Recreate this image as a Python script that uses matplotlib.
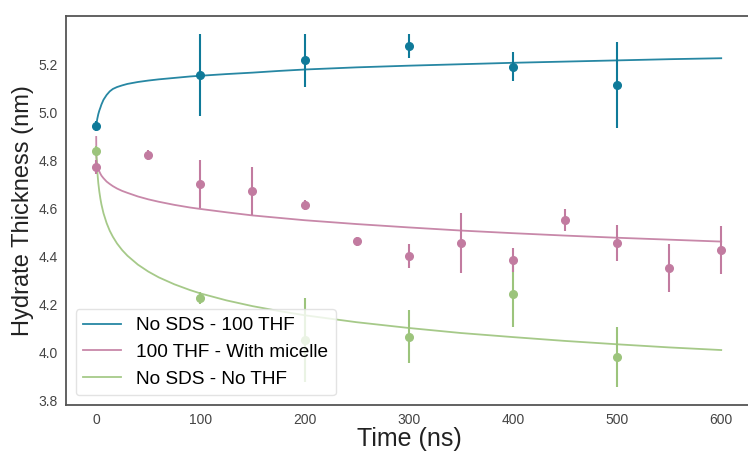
import matplotlib
matplotlib.use("Agg")
import matplotlib.pyplot as plt

plt.rcParams['font.family'] = ['Liberation Sans', 'DejaVu Sans']

# ---- data ----
labels = ["No SDS - 100 THF", "100 THF - With micelle", "No SDS - No THF"]
colors = ["#0f7a99", "#c27ba0", "#9cc47c"]

t_a = [0, 100, 200, 300, 400, 500]
y_a = [4.945, 5.157, 5.220, 5.280, 5.193, 5.117]
e_a = [0.02, 0.17, 0.11, 0.05, 0.06, 0.18]

t_b = [0, 50, 100, 150, 200, 250, 300, 350, 400, 450, 500, 550, 600]
y_b = [4.776, 4.825, 4.705, 4.674, 4.617, 4.465, 4.404, 4.457, 4.386, 4.554, 4.457, 4.355, 4.427]
e_b = [0.03, 0.02, 0.10, 0.10, 0.02, 0.02, 0.05, 0.125, 0.05, 0.045, 0.075, 0.10, 0.10]

t_c = [0, 100, 200, 300, 400, 500]
y_c = [4.843, 4.230, 4.054, 4.068, 4.245, 3.983]
e_c = [0.02, 0.025, 0.175, 0.11, 0.135, 0.125]

# fitted curves
t_fit = [0, 0.1, 0.2, 0.5, 1, 2, 3, 4, 5, 7, 10, 13, 16, 20, 25, 30, 40, 50, 60,
         75, 90, 100, 125, 150, 175, 200, 250, 300, 350, 400, 450, 500, 550, 600]
fit_a = [4.940, 4.945, 4.950, 4.960, 4.975, 4.995, 5.010, 5.022, 5.035, 5.055,
         5.075, 5.090, 5.100, 5.108, 5.115, 5.121, 5.129, 5.135, 5.140, 5.146,
         5.152, 5.155, 5.162, 5.168, 5.175, 5.181, 5.190, 5.197, 5.203, 5.209,
         5.214, 5.219, 5.224, 5.228]
fit_b = [4.900, 4.829, 4.818, 4.801, 4.785, 4.767, 4.756, 4.747, 4.739, 4.728,
         4.714, 4.704, 4.695, 4.685, 4.675, 4.667, 4.652, 4.640, 4.630, 4.617,
         4.606, 4.600, 4.586, 4.573, 4.563, 4.553, 4.537, 4.523, 4.510, 4.499,
         4.489, 4.480, 4.472, 4.464]
fit_c = [4.840, 4.829, 4.819, 4.793, 4.758, 4.708, 4.672, 4.643, 4.619, 4.582,
         4.541, 4.509, 4.484, 4.456, 4.428, 4.405, 4.368, 4.339, 4.315, 4.286,
         4.262, 4.248, 4.219, 4.195, 4.175, 4.157, 4.128, 4.104, 4.083, 4.066,
         4.050, 4.036, 4.023, 4.012]

xticks = [0, 100, 200, 300, 400, 500, 600]
yticks = [3.8, 4.0, 4.2, 4.4, 4.6, 4.8, 5.0, 5.2]

# ---- figure ----
fig = plt.figure(figsize=(7.48, 4.51), dpi=100)
ax = fig.add_axes([66 / 748, 46 / 451, 687.5 / 748, 389 / 451])

fits = [fit_a, fit_b, fit_c]
pts = [(t_a, y_a, e_a), (t_b, y_b, e_b), (t_c, y_c, e_c)]

for i in range(3):
    ax.plot(t_fit, fits[i], color=colors[i], lw=1.3, alpha=0.9, label=labels[i], zorder=2)
for i in [2, 1, 0]:
    t, y, e = pts[i]
    ax.errorbar(t, y, yerr=e, fmt='o', color=colors[i], ecolor=colors[i],
                elinewidth=1.5, markersize=5.5, capsize=0, alpha=1.0, zorder=3)

ax.set_xlim(-29, 631)
ax.set_ylim(3.783, 5.404)
ax.set_xticks(xticks)
ax.set_yticks(yticks)
ax.set_yticklabels([f"{v:.1f}" for v in yticks])
ax.tick_params(length=0, labelsize=10, labelcolor="#444444", pad=6)

for s in ["left", "bottom", "top"]:
    ax.spines[s].set_color("#555555")
    ax.spines[s].set_linewidth(1.3)
ax.spines["right"].set_visible(False)

ax.set_xlabel("Time (ns)", fontsize=18, color="#222222", labelpad=0)
ax.set_ylabel("Hydrate Thickness (nm)", fontsize=17, color="#222222", labelpad=3)

leg = ax.legend(loc="lower left", fontsize=13.7, frameon=True, framealpha=0.8,
                edgecolor="#dddddd", borderaxespad=0.5)
leg.get_frame().set_linewidth(1.0)

fig.savefig("out.png", dpi=100)
